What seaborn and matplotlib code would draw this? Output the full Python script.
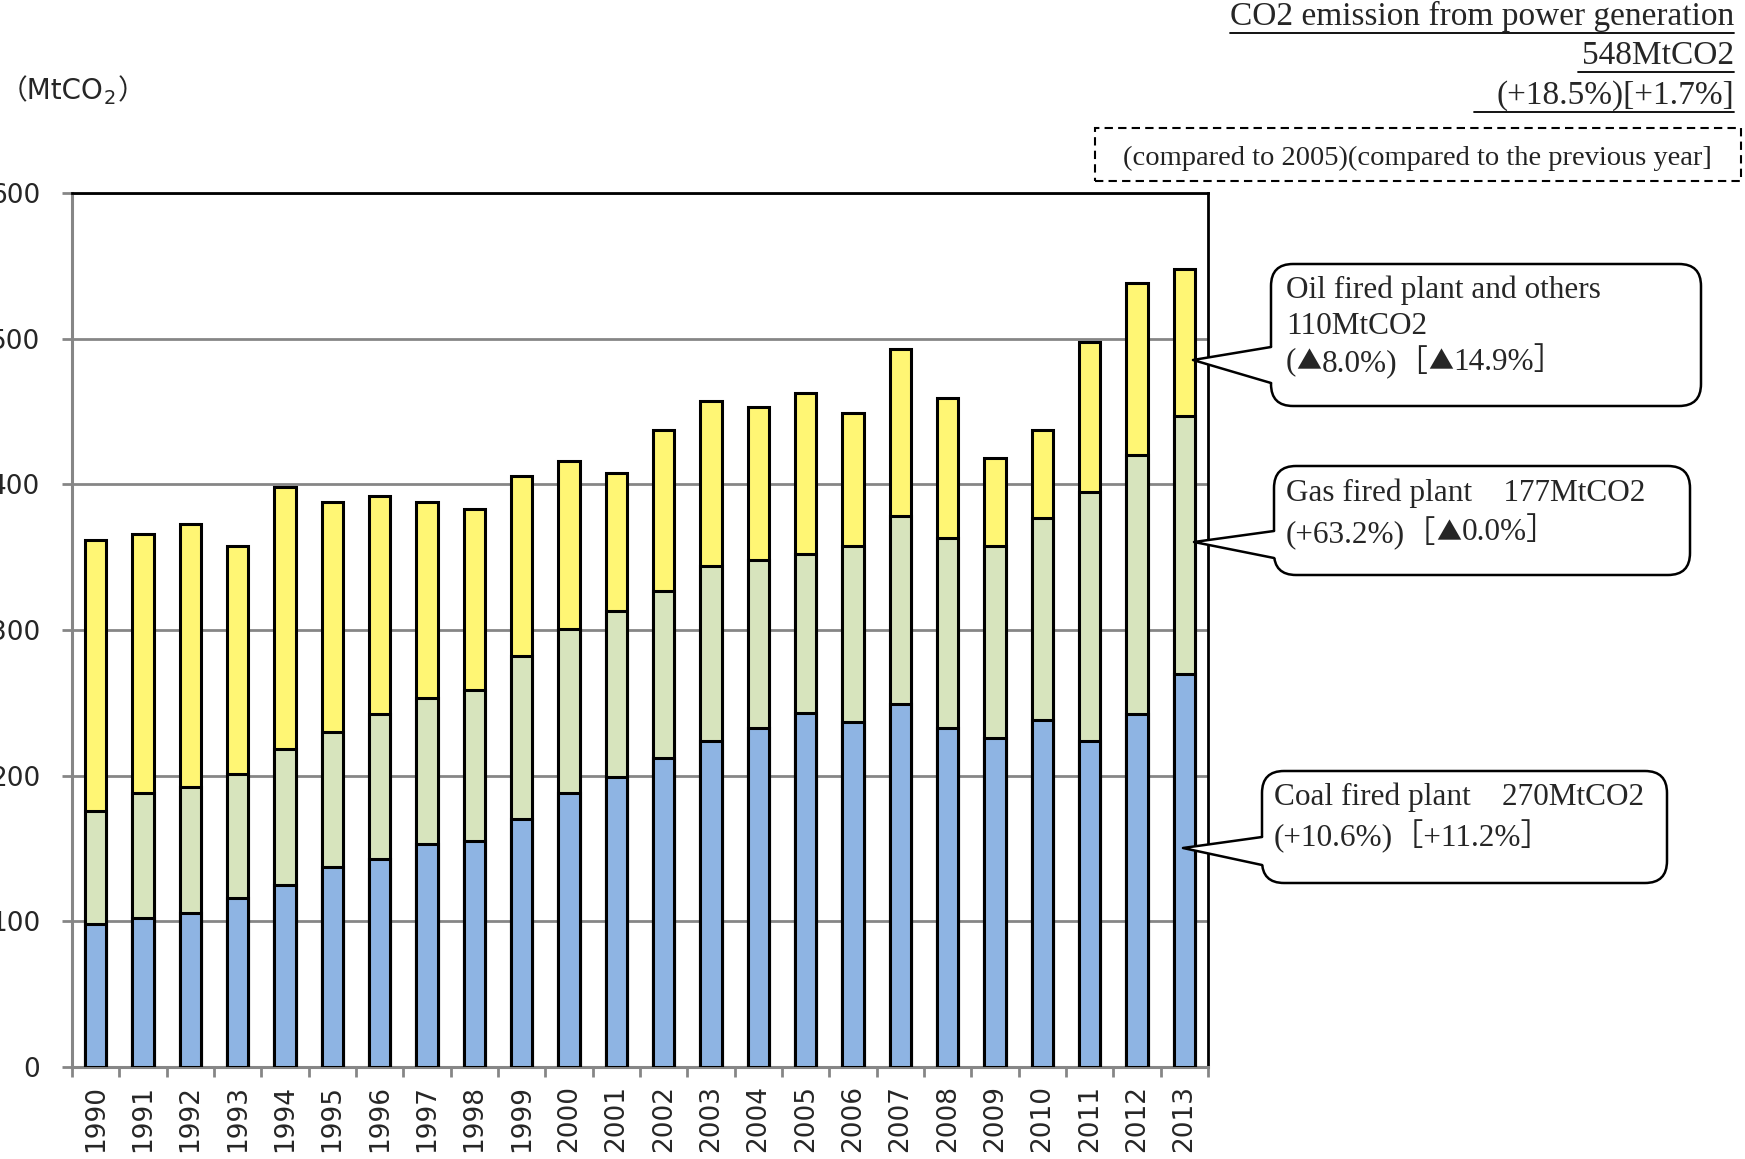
import numpy as np
import pandas as pd
import seaborn as sns
import matplotlib.pyplot as plt
from matplotlib.patches import FancyBboxPatch, Rectangle, Polygon
from matplotlib.lines import Line2D

# values (MtCO2)
years = [str(y) for y in range(1990, 2014)]
coal = [98, 102, 106, 116, 125, 137, 143, 153, 155, 170, 188, 199,
        212, 224, 233, 243, 237, 249, 233, 226, 238, 224, 242, 270]
gas = [78, 86, 86, 85, 93, 93, 99, 100, 104, 112, 113, 114,
       115, 120, 115, 109, 121, 129, 130, 132, 139, 171, 178, 177]
oil = [186, 178, 181, 157, 180, 158, 150, 135, 124, 124, 115, 95,
       110, 113, 105, 111, 91, 115, 96, 60, 60, 103, 118, 101]

title_lines = ["CO2 emission from power generation", "548MtCO2", "(+18.5%)[+1.7%]"]
note = "(compared to 2005)(compared to the previous year]"
oil_note = ["Oil fired plant and others", "110MtCO2", "(▲8.0%)［▲14.9%］"]
gas_note = ["Gas fired plant\u3000177MtCO2", "(+63.2%)［▲0.0%］"]
coal_note = ["Coal fired plant\u3000270MtCO2", "(+10.6%)［+11.2%］"]

df = pd.DataFrame({"year": years, "coal": coal, "gas": gas, "oil": oil})
df["coal_gas"] = df["coal"] + df["gas"]
df["total"] = df["coal_gas"] + df["oil"]

sns.set_theme(style="white")
plt.rcParams["font.family"] = ["DejaVu Sans", "Noto Sans CJK JP"]

W, H = 1745, 1159
fig = plt.figure(figsize=(W / 100, H / 100), dpi=100)
ax = fig.add_axes([72 / W, 1 - 1067 / H, (1208 - 72) / W, (1067 - 193) / H])

bar_kw = dict(width=0.45, edgecolor="black", linewidth=2.2, ax=ax, zorder=3)
sns.barplot(data=df, x="year", y="total", color="#FFF674", saturation=1, **bar_kw)
sns.barplot(data=df, x="year", y="coal_gas", color="#D7E4BD", saturation=1, **bar_kw)
sns.barplot(data=df, x="year", y="coal", color="#8EB4E3", saturation=1, **bar_kw)

ax.set_xlim(-0.5, len(years) - 0.5)
ax.set_ylim(0, 600)
ax.set_yticks(range(0, 601, 100))
ax.set_xlabel("")
ax.set_ylabel("")
ax.yaxis.grid(True, color="#868686", linewidth=2, zorder=0)
ax.set_axisbelow(True)
for s in ["left", "bottom"]:
    ax.spines[s].set_color("#868686")
    ax.spines[s].set_linewidth(2.2)
for s in ["top", "right"]:
    ax.spines[s].set_color("black")
    ax.spines[s].set_linewidth(2)
ax.tick_params(axis="y", length=7, width=2, color="#868686", pad=16,
               labelsize=19, direction="out", left=True)
ax.set_xticks(np.arange(-0.5, len(years)), minor=True)
ax.tick_params(axis="x", which="minor", length=7, width=2, color="#868686",
               direction="out", bottom=True)
ax.tick_params(axis="x", which="major", length=0, pad=13, labelsize=19,
               labelrotation=90)

serif = ["Liberation Serif", "Noto Sans CJK JP"]
cjk = ["Noto Sans CJK JP"]
inch = fig.dpi_scale_trans


def P(x, y):
    return (x / 100, (H - y) / 100)


# title lines (underlined further below)
title_y = [16, 56, 96]
title_txt = []
for s, y in zip(title_lines, title_y):
    title_txt.append(fig.text(1734 / W, 1 - y / H, s, fontsize=24, family=serif,
                              ha="right", va="center"))

fig.text(1417 / W, 1 - 158 / H, note, fontsize=20.5, family=serif,
         ha="center", va="center", color="#222222")
fig.patches.append(Rectangle(P(1095, 181), 6.46, 0.53, transform=inch, fill=False,
                             edgecolor="black", linestyle=(0, (4, 2.5)), linewidth=1.5))

fig.canvas.draw()
r = fig.canvas.get_renderer()

# unit label: （MtCO₂） with a real subscript
ux = 0
for s, dy, size in [("（MtCO", 0, 20), ("2", 7, 14), ("）", 0, 20)]:
    t = fig.text(ux / W, 1 - (91 + dy) / H, s, fontsize=size, va="center", ha="left")
    ux = t.get_window_extent(r).x1 + (2 if s == "2" else 0)


def rich_line(x, y, s, size):
    # triangles come from the CJK font so they are full size
    parts = s.replace("▲", "\0▲\0").split("\0")
    cx = x
    for p in parts:
        if not p:
            continue
        fam = cjk if p == "▲" else serif
        t = fig.text(cx / W, 1 - y / H, p, fontsize=size * (0.8 if p == "▲" else 1),
                     family=fam, ha="left", va="center", zorder=8)
        cx = t.get_window_extent(r).x1


def callout(x0, y0, x1, y1, tip, by0, by1, lines, tx, ty):
    box = FancyBboxPatch(P(x0, y1), (x1 - x0) / 100, (y1 - y0) / 100,
                         boxstyle="round,pad=0,rounding_size=0.22", transform=inch,
                         facecolor="white", edgecolor="black", linewidth=1.8, zorder=5)
    fig.patches.append(box)
    cover = Polygon([P(x0 + 3, by0), P(*tip), P(x0 + 3, by1)], closed=True,
                    transform=inch, facecolor="white", edgecolor="none", zorder=6)
    fig.patches.append(cover)
    xs, ys = zip(*[P(x0, by0), P(*tip), P(x0, by1)])
    fig.lines.append(Line2D(xs, ys, transform=inch, color="black", linewidth=1.8,
                            zorder=7))
    for s, y in zip(lines, ty):
        rich_line(tx, y, s, 22.5)


callout(1271, 264, 1701, 406, (1193, 360), 347, 383, oil_note, 1286, [290, 327, 362])
callout(1274, 466, 1690, 575, (1194, 542), 531, 558, gas_note, 1286, [493, 533])
callout(1262, 771, 1667, 883, (1183, 848), 837, 865, coal_note, 1274, [797, 836])

# underlines under the title lines
extra = [0, 4, 22]
for t, e in zip(title_txt, extra):
    bb = t.get_window_extent(r)
    yy = bb.y0 - 1
    fig.lines.append(Line2D([(bb.x0 - e) / 100, bb.x1 / 100], [yy / 100, yy / 100],
                            transform=inch, color="black", linewidth=1.3))

fig.savefig("out.png", dpi=100)
